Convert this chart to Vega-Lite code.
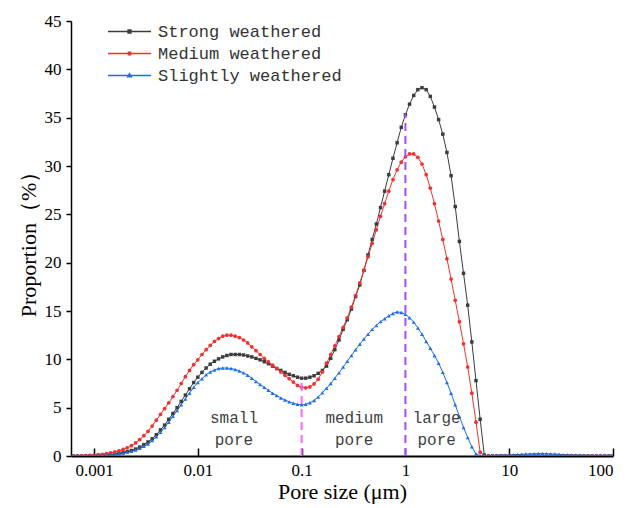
{
"$schema": "https://vega.github.io/schema/vega-lite/v6.json",
"width": 542, "height": 435,
"autosize": {"type": "none"},
"padding": {"left": 71, "top": 21, "right": 15, "bottom": 52},
"config": {"view": {"stroke": null}, "axis": {"grid": false, "labelFont": "Liberation Serif", "titleFont": "Liberation Serif", "labelColor": "#000", "titleColor": "#000", "domainColor": "#000", "tickColor": "#000", "labelFontSize": 17, "titleFontSize": 22, "titleFontWeight": "normal"}},
"datasets": {
"curves": [
{"x":0.000631,"s":"S","v":0},{"x":0.0006918,"s":"S","v":0},{"x":0.0007586,"s":"S","v":0},{"x":0.0008318,"s":"S","v":0.01},{"x":0.000912,"s":"S","v":0.02},{"x":0.001,"s":"S","v":0.03},{"x":0.001096,"s":"S","v":0.05},{"x":0.001202,"s":"S","v":0.07},{"x":0.001318,"s":"S","v":0.1},{"x":0.001445,"s":"S","v":0.14},{"x":0.001585,"s":"S","v":0.19},{"x":0.001738,"s":"S","v":0.26},{"x":0.001905,"s":"S","v":0.35},{"x":0.002089,"s":"S","v":0.45},{"x":0.002291,"s":"S","v":0.57},{"x":0.002512,"s":"S","v":0.72},{"x":0.002754,"s":"S","v":0.92},{"x":0.00302,"s":"S","v":1.18},{"x":0.003311,"s":"S","v":1.45},{"x":0.003631,"s":"S","v":1.78},{"x":0.003981,"s":"S","v":2.2},{"x":0.004365,"s":"S","v":2.7},{"x":0.004786,"s":"S","v":3.2},{"x":0.005248,"s":"S","v":3.8},{"x":0.005754,"s":"S","v":4.4},{"x":0.00631,"s":"S","v":5.0},{"x":0.006918,"s":"S","v":5.65},{"x":0.007586,"s":"S","v":6.3},{"x":0.008318,"s":"S","v":6.95},{"x":0.00912,"s":"S","v":7.6},
{"x":0.01,"s":"S","v":8.15},{"x":0.01096,"s":"S","v":8.65},{"x":0.01202,"s":"S","v":9.1},{"x":0.01318,"s":"S","v":9.5},{"x":0.01445,"s":"S","v":9.8},{"x":0.01585,"s":"S","v":10.05},{"x":0.01738,"s":"S","v":10.25},{"x":0.01905,"s":"S","v":10.4},{"x":0.02089,"s":"S","v":10.5},{"x":0.02291,"s":"S","v":10.5},{"x":0.02512,"s":"S","v":10.5},{"x":0.02754,"s":"S","v":10.45},{"x":0.0302,"s":"S","v":10.35},{"x":0.03311,"s":"S","v":10.25},{"x":0.03631,"s":"S","v":10.1},{"x":0.03981,"s":"S","v":9.95},{"x":0.04365,"s":"S","v":9.75},{"x":0.04786,"s":"S","v":9.55},{"x":0.05248,"s":"S","v":9.3},{"x":0.05754,"s":"S","v":9.05},{"x":0.0631,"s":"S","v":8.85},{"x":0.06918,"s":"S","v":8.65},{"x":0.07586,"s":"S","v":8.45},{"x":0.08318,"s":"S","v":8.3},{"x":0.0912,"s":"S","v":8.15},
{"x":0.1,"s":"S","v":8.05},{"x":0.1096,"s":"S","v":8.05},{"x":0.1202,"s":"S","v":8.15},{"x":0.1318,"s":"S","v":8.3},{"x":0.1445,"s":"S","v":8.55},{"x":0.1585,"s":"S","v":8.85},{"x":0.1738,"s":"S","v":9.3},{"x":0.1905,"s":"S","v":10.1},{"x":0.2089,"s":"S","v":11.0},{"x":0.2291,"s":"S","v":12.0},{"x":0.2512,"s":"S","v":13.1},{"x":0.2754,"s":"S","v":14.1},{"x":0.302,"s":"S","v":15.2},{"x":0.3311,"s":"S","v":16.5},{"x":0.3631,"s":"S","v":17.7},{"x":0.3981,"s":"S","v":19.2},{"x":0.4365,"s":"S","v":20.8},{"x":0.4786,"s":"S","v":22.4},{"x":0.5248,"s":"S","v":24.0},{"x":0.5754,"s":"S","v":25.7},{"x":0.631,"s":"S","v":27.4},{"x":0.6918,"s":"S","v":29.1},{"x":0.7586,"s":"S","v":30.8},{"x":0.8318,"s":"S","v":32.4},{"x":0.912,"s":"S","v":34.0},
{"x":1,"s":"S","v":35.3},{"x":1.096,"s":"S","v":36.4},{"x":1.202,"s":"S","v":37.3},{"x":1.318,"s":"S","v":37.9},{"x":1.445,"s":"S","v":38.1},{"x":1.585,"s":"S","v":37.9},{"x":1.738,"s":"S","v":37.2},{"x":1.905,"s":"S","v":36.1},{"x":2.089,"s":"S","v":34.8},{"x":2.291,"s":"S","v":33.3},{"x":2.512,"s":"S","v":31.4},{"x":2.754,"s":"S","v":29.0},{"x":3.02,"s":"S","v":25.8},{"x":3.311,"s":"S","v":22.2},{"x":3.631,"s":"S","v":18.9},{"x":3.981,"s":"S","v":15.6},{"x":4.365,"s":"S","v":11.8},{"x":4.786,"s":"S","v":7.8},{"x":5.248,"s":"S","v":3.8},{"x":5.754,"s":"S","v":0.1},{"x":6.31,"s":"S","v":0},{"x":6.918,"s":"S","v":0},{"x":7.586,"s":"S","v":0},{"x":8.318,"s":"S","v":0},{"x":9.12,"s":"S","v":0},
{"x":10,"s":"S","v":0},{"x":10.96,"s":"S","v":0},{"x":12.02,"s":"S","v":0},{"x":13.18,"s":"S","v":0},{"x":14.45,"s":"S","v":0},{"x":15.85,"s":"S","v":0},{"x":17.38,"s":"S","v":0},{"x":19.05,"s":"S","v":0},{"x":20.89,"s":"S","v":0},{"x":22.91,"s":"S","v":0},{"x":25.12,"s":"S","v":0},{"x":27.54,"s":"S","v":0},{"x":30.2,"s":"S","v":0},{"x":33.11,"s":"S","v":0},{"x":36.31,"s":"S","v":0},{"x":39.81,"s":"S","v":0},{"x":43.65,"s":"S","v":0},{"x":47.86,"s":"S","v":0},{"x":52.48,"s":"S","v":0},{"x":57.54,"s":"S","v":0},{"x":63.1,"s":"S","v":0},{"x":69.18,"s":"S","v":0},{"x":75.86,"s":"S","v":0},{"x":83.18,"s":"S","v":0},{"x":91.2,"s":"S","v":0},{"x":100,"s":"S","v":0},

{"x":0.000631,"s":"M","v":0},{"x":0.0006918,"s":"M","v":0.01},{"x":0.0007586,"s":"M","v":0.02},{"x":0.0008318,"s":"M","v":0.04},{"x":0.000912,"s":"M","v":0.06},{"x":0.001,"s":"M","v":0.09},{"x":0.001096,"s":"M","v":0.13},{"x":0.001202,"s":"M","v":0.18},{"x":0.001318,"s":"M","v":0.25},{"x":0.001445,"s":"M","v":0.33},{"x":0.001585,"s":"M","v":0.42},{"x":0.001738,"s":"M","v":0.54},{"x":0.001905,"s":"M","v":0.68},{"x":0.002089,"s":"M","v":0.85},{"x":0.002291,"s":"M","v":1.07},{"x":0.002512,"s":"M","v":1.35},{"x":0.002754,"s":"M","v":1.7},{"x":0.00302,"s":"M","v":2.1},{"x":0.003311,"s":"M","v":2.55},{"x":0.003631,"s":"M","v":3.1},{"x":0.003981,"s":"M","v":3.7},{"x":0.004365,"s":"M","v":4.3},{"x":0.004786,"s":"M","v":4.9},{"x":0.005248,"s":"M","v":5.5},{"x":0.005754,"s":"M","v":6.15},{"x":0.00631,"s":"M","v":6.8},{"x":0.006918,"s":"M","v":7.5},{"x":0.007586,"s":"M","v":8.2},{"x":0.008318,"s":"M","v":8.85},{"x":0.00912,"s":"M","v":9.45},
{"x":0.01,"s":"M","v":9.95},{"x":0.01096,"s":"M","v":10.5},{"x":0.01202,"s":"M","v":11.0},{"x":0.01318,"s":"M","v":11.45},{"x":0.01445,"s":"M","v":11.85},{"x":0.01585,"s":"M","v":12.15},{"x":0.01738,"s":"M","v":12.4},{"x":0.01905,"s":"M","v":12.5},{"x":0.02089,"s":"M","v":12.5},{"x":0.02291,"s":"M","v":12.4},{"x":0.02512,"s":"M","v":12.25},{"x":0.02754,"s":"M","v":12.0},{"x":0.0302,"s":"M","v":11.7},{"x":0.03311,"s":"M","v":11.3},{"x":0.03631,"s":"M","v":10.9},{"x":0.03981,"s":"M","v":10.5},{"x":0.04365,"s":"M","v":10.1},{"x":0.04786,"s":"M","v":9.75},{"x":0.05248,"s":"M","v":9.4},{"x":0.05754,"s":"M","v":9.05},{"x":0.0631,"s":"M","v":8.7},{"x":0.06918,"s":"M","v":8.35},{"x":0.07586,"s":"M","v":8.0},{"x":0.08318,"s":"M","v":7.65},{"x":0.0912,"s":"M","v":7.3},
{"x":0.1,"s":"M","v":7.1},{"x":0.1096,"s":"M","v":7.05},{"x":0.1202,"s":"M","v":7.15},{"x":0.1318,"s":"M","v":7.45},{"x":0.1445,"s":"M","v":7.95},{"x":0.1585,"s":"M","v":8.7},{"x":0.1738,"s":"M","v":9.6},{"x":0.1905,"s":"M","v":10.5},{"x":0.2089,"s":"M","v":11.4},{"x":0.2291,"s":"M","v":12.35},{"x":0.2512,"s":"M","v":13.3},{"x":0.2754,"s":"M","v":14.3},{"x":0.302,"s":"M","v":15.4},{"x":0.3311,"s":"M","v":16.6},{"x":0.3631,"s":"M","v":17.9},{"x":0.3981,"s":"M","v":19.2},{"x":0.4365,"s":"M","v":20.6},{"x":0.4786,"s":"M","v":22.0},{"x":0.5248,"s":"M","v":23.4},{"x":0.5754,"s":"M","v":24.8},{"x":0.631,"s":"M","v":26.1},{"x":0.6918,"s":"M","v":27.4},{"x":0.7586,"s":"M","v":28.6},{"x":0.8318,"s":"M","v":29.6},{"x":0.912,"s":"M","v":30.4},
{"x":1,"s":"M","v":30.95},{"x":1.096,"s":"M","v":31.25},{"x":1.202,"s":"M","v":31.25},{"x":1.318,"s":"M","v":30.9},{"x":1.445,"s":"M","v":30.2},{"x":1.585,"s":"M","v":29.1},{"x":1.738,"s":"M","v":27.7},{"x":1.905,"s":"M","v":26.1},{"x":2.089,"s":"M","v":24.3},{"x":2.291,"s":"M","v":22.4},{"x":2.512,"s":"M","v":20.4},{"x":2.754,"s":"M","v":18.3},{"x":3.02,"s":"M","v":16.1},{"x":3.311,"s":"M","v":13.9},{"x":3.631,"s":"M","v":11.6},{"x":3.981,"s":"M","v":9.2},{"x":4.365,"s":"M","v":6.5},{"x":4.786,"s":"M","v":3.5},{"x":5.248,"s":"M","v":0.4},{"x":5.754,"s":"M","v":0},{"x":6.31,"s":"M","v":0},{"x":6.918,"s":"M","v":0},{"x":7.586,"s":"M","v":0},{"x":8.318,"s":"M","v":0},{"x":9.12,"s":"M","v":0},
{"x":10,"s":"M","v":0},{"x":10.96,"s":"M","v":0},{"x":12.02,"s":"M","v":0},{"x":13.18,"s":"M","v":0},{"x":14.45,"s":"M","v":0},{"x":15.85,"s":"M","v":0},{"x":17.38,"s":"M","v":0},{"x":19.05,"s":"M","v":0},{"x":20.89,"s":"M","v":0},{"x":22.91,"s":"M","v":0},{"x":25.12,"s":"M","v":0},{"x":27.54,"s":"M","v":0},{"x":30.2,"s":"M","v":0},{"x":33.11,"s":"M","v":0},{"x":36.31,"s":"M","v":0},{"x":39.81,"s":"M","v":0},{"x":43.65,"s":"M","v":0},{"x":47.86,"s":"M","v":0},{"x":52.48,"s":"M","v":0},{"x":57.54,"s":"M","v":0},{"x":63.1,"s":"M","v":0},{"x":69.18,"s":"M","v":0},{"x":75.86,"s":"M","v":0},{"x":83.18,"s":"M","v":0},{"x":91.2,"s":"M","v":0},{"x":100,"s":"M","v":0},

{"x":0.000631,"s":"L","v":0.03},{"x":0.0006918,"s":"L","v":0.03},{"x":0.0007586,"s":"L","v":0.04},{"x":0.0008318,"s":"L","v":0.04},{"x":0.000912,"s":"L","v":0.05},{"x":0.001,"s":"L","v":0.06},{"x":0.001096,"s":"L","v":0.07},{"x":0.001202,"s":"L","v":0.09},{"x":0.001318,"s":"L","v":0.11},{"x":0.001445,"s":"L","v":0.14},{"x":0.001585,"s":"L","v":0.18},{"x":0.001738,"s":"L","v":0.24},{"x":0.001905,"s":"L","v":0.31},{"x":0.002089,"s":"L","v":0.4},{"x":0.002291,"s":"L","v":0.5},{"x":0.002512,"s":"L","v":0.63},{"x":0.002754,"s":"L","v":0.8},{"x":0.00302,"s":"L","v":1.0},{"x":0.003311,"s":"L","v":1.25},{"x":0.003631,"s":"L","v":1.6},{"x":0.003981,"s":"L","v":2.0},{"x":0.004365,"s":"L","v":2.45},{"x":0.004786,"s":"L","v":2.95},{"x":0.005248,"s":"L","v":3.5},{"x":0.005754,"s":"L","v":4.1},{"x":0.00631,"s":"L","v":4.7},{"x":0.006918,"s":"L","v":5.3},{"x":0.007586,"s":"L","v":5.9},{"x":0.008318,"s":"L","v":6.5},{"x":0.00912,"s":"L","v":7.1},
{"x":0.01,"s":"L","v":7.6},{"x":0.01096,"s":"L","v":8.0},{"x":0.01202,"s":"L","v":8.4},{"x":0.01318,"s":"L","v":8.7},{"x":0.01445,"s":"L","v":8.9},{"x":0.01585,"s":"L","v":9.05},{"x":0.01738,"s":"L","v":9.1},{"x":0.01905,"s":"L","v":9.1},{"x":0.02089,"s":"L","v":9.05},{"x":0.02291,"s":"L","v":8.95},{"x":0.02512,"s":"L","v":8.8},{"x":0.02754,"s":"L","v":8.6},{"x":0.0302,"s":"L","v":8.35},{"x":0.03311,"s":"L","v":8.05},{"x":0.03631,"s":"L","v":7.7},{"x":0.03981,"s":"L","v":7.4},{"x":0.04365,"s":"L","v":7.1},{"x":0.04786,"s":"L","v":6.8},{"x":0.05248,"s":"L","v":6.5},{"x":0.05754,"s":"L","v":6.25},{"x":0.0631,"s":"L","v":6.0},{"x":0.06918,"s":"L","v":5.8},{"x":0.07586,"s":"L","v":5.6},{"x":0.08318,"s":"L","v":5.45},{"x":0.0912,"s":"L","v":5.35},
{"x":0.1,"s":"L","v":5.3},{"x":0.1096,"s":"L","v":5.35},{"x":0.1202,"s":"L","v":5.5},{"x":0.1318,"s":"L","v":5.75},{"x":0.1445,"s":"L","v":6.1},{"x":0.1585,"s":"L","v":6.55},{"x":0.1738,"s":"L","v":7.0},{"x":0.1905,"s":"L","v":7.5},{"x":0.2089,"s":"L","v":8.05},{"x":0.2291,"s":"L","v":8.6},{"x":0.2512,"s":"L","v":9.2},{"x":0.2754,"s":"L","v":9.8},{"x":0.302,"s":"L","v":10.4},{"x":0.3311,"s":"L","v":11.0},{"x":0.3631,"s":"L","v":11.55},{"x":0.3981,"s":"L","v":12.1},{"x":0.4365,"s":"L","v":12.6},{"x":0.4786,"s":"L","v":13.1},{"x":0.5248,"s":"L","v":13.5},{"x":0.5754,"s":"L","v":13.9},{"x":0.631,"s":"L","v":14.2},{"x":0.6918,"s":"L","v":14.5},{"x":0.7586,"s":"L","v":14.75},{"x":0.8318,"s":"L","v":14.9},{"x":0.912,"s":"L","v":14.85},
{"x":1,"s":"L","v":14.65},{"x":1.096,"s":"L","v":14.3},{"x":1.202,"s":"L","v":13.85},{"x":1.318,"s":"L","v":13.25},{"x":1.445,"s":"L","v":12.6},{"x":1.585,"s":"L","v":11.85},{"x":1.738,"s":"L","v":11.15},{"x":1.905,"s":"L","v":10.4},{"x":2.089,"s":"L","v":9.6},{"x":2.291,"s":"L","v":8.65},{"x":2.512,"s":"L","v":7.6},{"x":2.754,"s":"L","v":6.5},{"x":3.02,"s":"L","v":5.3},{"x":3.311,"s":"L","v":4.1},{"x":3.631,"s":"L","v":2.95},{"x":3.981,"s":"L","v":1.9},{"x":4.365,"s":"L","v":0.95},{"x":4.786,"s":"L","v":0.2},{"x":5.248,"s":"L","v":0.05},{"x":5.754,"s":"L","v":0.05},{"x":6.31,"s":"L","v":0.05},{"x":6.918,"s":"L","v":0.05},{"x":7.586,"s":"L","v":0.06},{"x":8.318,"s":"L","v":0.07},{"x":9.12,"s":"L","v":0.08},
{"x":10,"s":"L","v":0.1},{"x":10.96,"s":"L","v":0.12},{"x":12.02,"s":"L","v":0.15},{"x":13.18,"s":"L","v":0.18},{"x":14.45,"s":"L","v":0.2},{"x":15.85,"s":"L","v":0.22},{"x":17.38,"s":"L","v":0.24},{"x":19.05,"s":"L","v":0.25},{"x":20.89,"s":"L","v":0.25},{"x":22.91,"s":"L","v":0.24},{"x":25.12,"s":"L","v":0.22},{"x":27.54,"s":"L","v":0.2},{"x":30.2,"s":"L","v":0.17},{"x":33.11,"s":"L","v":0.14},{"x":36.31,"s":"L","v":0.12},{"x":39.81,"s":"L","v":0.1},{"x":43.65,"s":"L","v":0.08},{"x":47.86,"s":"L","v":0.07},{"x":52.48,"s":"L","v":0.06},{"x":57.54,"s":"L","v":0.05},{"x":63.1,"s":"L","v":0.05},{"x":69.18,"s":"L","v":0.05},{"x":75.86,"s":"L","v":0.05},{"x":83.18,"s":"L","v":0.05},{"x":91.2,"s":"L","v":0.05},{"x":100,"s":"L","v":0.05}
],
"divisions": [
{"x":0.1,"y":0,"y2":8.1,"k":"a"},
{"x":1,"y":0,"y2":35.4,"k":"b"}
],
"labels": [
{"x":0.0223,"y":3.95,"t":"small\npore"},
{"x":0.321,"y":3.95,"t":"medium\npore"},
{"x":2.0,"y":3.95,"t":"large\npore"}
]
},
"layer": [
{
"data": {"name": "curves"},
"mark": {"type": "line", "strokeWidth": 1, "clip": true},
"encoding": {
"x": {"field": "x", "type": "quantitative", "scale": {"type": "log", "domain": [0.0006, 100], "nice": false},
"axis": {"values": [0.001, 0.01, 0.1, 1, 10, 100], "format": "~g", "title": "Pore size (μm)", "tickSize": -8, "labelPadding": 14, "domainWidth": 2, "tickWidth": 1.5, "titlePadding": 3}},
"y": {"field": "v", "type": "quantitative", "scale": {"domain": [0, 45], "nice": false},
"axis": {"values": [0,5,10,15,20,25,30,35,40,45], "title": "Proportion（%）", "tickSize": 5, "labelPadding": 5, "domainWidth": 1.5, "tickWidth": 1.5, "titlePadding": 4}},
"color": {"field": "s", "type": "nominal",
"scale": {"domain": ["S", "M", "L"], "range": ["#3c3c3c", "#f23030", "#1f6ee8"]},
"legend": {"title": null, "orient": "none", "legendX": 47, "legendY": -1,
"labelExpr": "datum.value == 'S' ? 'Strong weathered' : datum.value == 'M' ? 'Medium weathered' : 'Slightly weathered'",
"symbolType": "M-2,0H2M-0.13,-0.13H0.13V0.13H-0.13Z", "symbolSize": 462, "symbolStrokeWidth": 1.5, "labelLimit": 400,
"labelFont": "Liberation Mono", "labelFontSize": 17, "labelColor": "#333", "labelOffset": 17, "rowPadding": 2,
"encode": {"symbols": {"update": {
"shape": {"signal": "datum.value == 'S' ? 'M-2,0H2M-0.13,-0.13H0.13V0.13H-0.13Z' : datum.value == 'M' ? 'M-2,0H2M-0.14,0A0.14,0.14,0,1,0,0.14,0A0.14,0.14,0,1,0,-0.14,0Z' : 'M-2,0H2M0,-0.17L0.16,0.11H-0.16Z'"}}}}}
}
}
},
{
"data": {"name": "curves"},
"mark": {"type": "point", "filled": true, "opacity": 1, "clip": true},
"encoding": {
"x": {"field": "x", "type": "quantitative"},
"y": {"field": "v", "type": "quantitative"},
"color": {"field": "s", "type": "nominal", "scale": {"domain": ["S", "M", "L"], "range": ["#3c3c3c", "#f23030", "#1f6ee8"]}, "legend": null},
"shape": {"field": "s", "type": "nominal", "scale": {"domain": ["S", "M", "L"], "range": ["square", "circle", "triangle-up"]}, "legend": null},
"size": {"field": "s", "type": "nominal", "scale": {"domain": ["S", "M", "L"], "range": [12, 16, 18]}, "legend": null}
}
},
{
"data": {"name": "divisions"},
"mark": {"type": "rule", "strokeWidth": 2, "strokeDash": [8, 5]},
"encoding": {
"x": {"field": "x", "type": "quantitative"},
"y": {"field": "y", "type": "quantitative"},
"y2": {"field": "y2"},
"stroke": {"field": "k", "type": "nominal", "scale": {"domain": ["a", "b"], "range": ["#ff66ff", "#a64dff"]}, "legend": null}
}
},
{
"data": {"name": "labels"},
"mark": {"type": "text", "font": "Liberation Mono", "fontSize": 16, "color": "#404040", "lineBreak": "\n", "lineHeight": 22, "baseline": "middle", "align": "center"},
"encoding": {
"x": {"field": "x", "type": "quantitative"},
"y": {"field": "y", "type": "quantitative"},
"text": {"field": "t"}
}
}
],
"resolve": {"scale": {"color": "independent", "shape": "independent", "size": "independent"}, "legend": {"color": "independent", "shape": "independent", "size": "independent"}}
}
